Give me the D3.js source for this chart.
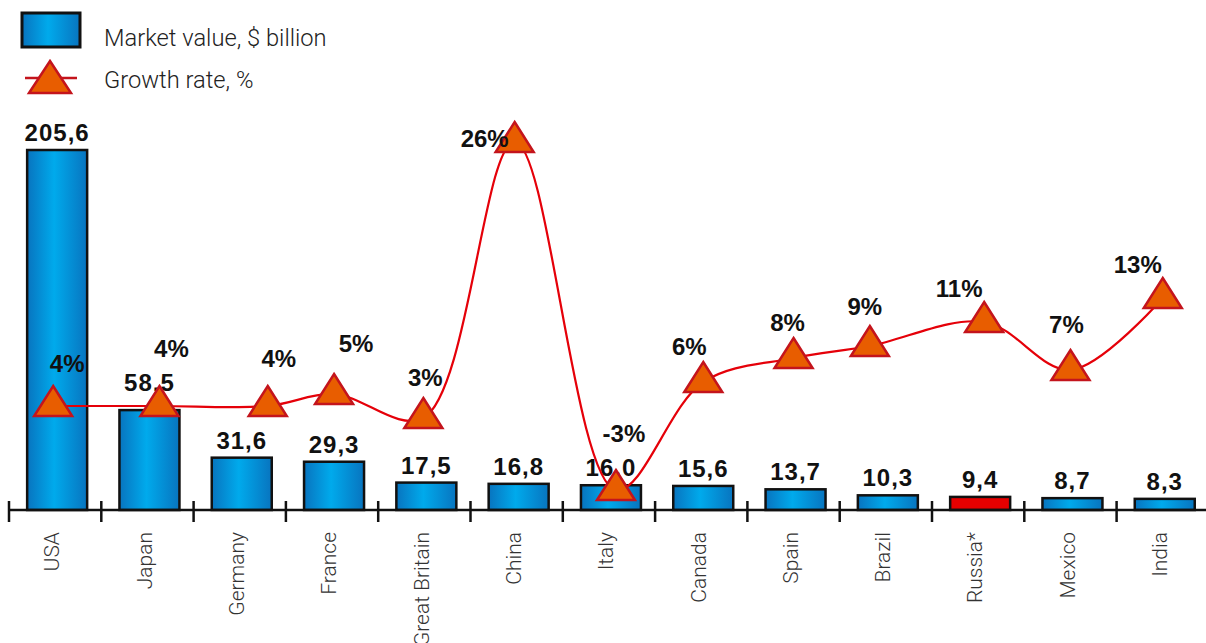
<!DOCTYPE html>
<html>
<head>
<meta charset="utf-8">
<script src="https://cdn.jsdelivr.net/npm/d3@7"></script>
<style>
  html, body { margin: 0; padding: 0; background: #fff; }
  svg { display: block; }
</style>
</head>
<body>
<svg id="chart" width="1206" height="643"></svg>
<script>
// ---- data ----
const countries = ["USA","Japan","Germany","France","Great Britain","China","Italy","Canada","Spain","Brazil","Russia*","Mexico","India"];
const marketValue = [205.6, 58.5, 31.6, 29.3, 17.5, 16.8, 16.0, 15.6, 13.7, 10.3, 9.4, 8.7, 8.3];
const marketLabels = ["205,6","58,5","31,6","29,3","17,5","16,8","16,0","15,6","13,7","10,3","9,4","8,7","8,3"];
const growthRate = [4, 4, 4, 5, 3, 26, -3, 6, 8, 9, 11, 7, 13];
const growthLabels = ["4%","4%","4%","5%","3%","26%","-3%","6%","8%","9%","11%","7%","13%"];
const highlighted = ["Russia*"];
const legendLabels = ["Market value, $ billion", "Growth rate, %"];

// ---- layout nudges (relative offsets, px) ----
const markerNudgeX = [-2, 12, 28, 2, -1, -2, 7, 2, 0, -16, 6, 0, 0];
const pctNudgeX = [14, 12, 11, 22, 2, -30, 8, -14, -6, -5, -25, -4, -25];
const pctNudgeY = [-34, -49, -39, -42, -32, 5, -48, -27, -27, -31, -25, -37, -25];
const barLabelNudgeY = [0, -10, 0, 0, 0, 0, 0, 0, 0, 0, 0, 0, 0];

const svg = d3.select("#chart");
const W = 1206, H = 643;
const baseY = 510;

const defs = svg.append("defs");
const grad = defs.append("linearGradient").attr("id", "barGrad")
  .attr("x1", "0%").attr("x2", "100%").attr("y1", "0%").attr("y2", "0%");
grad.append("stop").attr("offset", "0%").attr("stop-color", "#0874bf");
grad.append("stop").attr("offset", "45%").attr("stop-color", "#00aaec");
grad.append("stop").attr("offset", "100%").attr("stop-color", "#0874bf");

const x = d3.scaleBand().domain(countries).range([9, 9 + 13 * 92.3])
  .paddingInner(0.35).paddingOuter(0.175);
const yBar = d3.scaleLinear().domain([2, 205.6]).range([baseY, 150]);
const yGrowth = d3.scaleLinear().domain([-3, 26]).range([490, 142]);

const step = x.step();
const cx = d => x(d) + x.bandwidth() / 2;

// bars
svg.append("g").selectAll("rect").data(countries).join("rect")
  .attr("x", d => x(d) + 2)
  .attr("width", x.bandwidth())
  .attr("y", (d, i) => yBar(marketValue[i]))
  .attr("height", (d, i) => baseY - yBar(marketValue[i]))
  .attr("fill", d => highlighted.includes(d) ? "#e60000" : "url(#barGrad)")
  .attr("stroke", "#111").attr("stroke-width", 2.5);

// bar labels
svg.append("g").selectAll("text").data(countries).join("text")
  .attr("x", d => cx(d) + 2)
  .attr("y", (d, i) => yBar(marketValue[i]) - 9 + barLabelNudgeY[i])
  .attr("text-anchor", "middle")
  .attr("font-family", "'Liberation Sans', Arial, sans-serif")
  .attr("font-weight", "bold").attr("font-size", 24)
  .attr("letter-spacing", 1)
  .attr("fill", "#111")
  .text((d, i) => marketLabels[i]);

// axis
const axisG = svg.append("g");
axisG.append("line").attr("x1", 9).attr("x2", W).attr("y1", baseY).attr("y2", baseY)
  .attr("stroke", "#111").attr("stroke-width", 2.5);
axisG.selectAll("line.tick").data(countries).join("line").attr("class", "tick")
  .attr("x1", d => x(d) - step * 0.175).attr("x2", d => x(d) - step * 0.175)
  .attr("y1", baseY - 9).attr("y2", baseY + 12)
  .attr("stroke", "#111").attr("stroke-width", 2.5);
axisG.selectAll("text").data(countries).join("text")
  .attr("transform", d => `translate(${cx(d) - 2},${532}) rotate(-90)`)
  .attr("text-anchor", "end")
  .attr("dy", "0.3em")
  .attr("font-family", "Roboto, 'Liberation Sans', sans-serif")
  .attr("font-weight", 300)
  .attr("font-size", 21)
  .attr("fill", "#333")
  .text(d => d);

// growth line
const pts = countries.map((d, i) => [cx(d) + markerNudgeX[i], yGrowth(growthRate[i])]);
svg.append("path")
  .attr("d", d3.line().curve(d3.curveCatmullRom.alpha(0.5))(pts))
  .attr("fill", "none").attr("stroke", "#e50009").attr("stroke-width", 2.2);

// triangles
const tri = "M0,-20L19,10L-19,10Z";
svg.append("g").selectAll("path").data(pts).join("path")
  .attr("d", tri)
  .attr("transform", p => `translate(${p[0]},${p[1]})`)
  .attr("fill", "#e85d00").attr("stroke", "#c4141c").attr("stroke-width", 2.5)
  .attr("stroke-linejoin", "miter");

// growth labels
svg.append("g").selectAll("text").data(pts).join("text")
  .attr("x", (p, i) => p[0] + pctNudgeX[i])
  .attr("y", (p, i) => p[1] + pctNudgeY[i])
  .attr("text-anchor", "middle")
  .attr("font-family", "'Liberation Sans', Arial, sans-serif")
  .attr("font-weight", "bold").attr("font-size", 24)
  .attr("fill", "#111")
  .text((p, i) => growthLabels[i]);

// legend
const lg = svg.append("g");
lg.append("rect").attr("x", 22).attr("y", 13).attr("width", 58).attr("height", 34)
  .attr("fill", "url(#barGrad)").attr("stroke", "#111").attr("stroke-width", 3);
lg.append("line").attr("x1", 25).attr("x2", 77).attr("y1", 78).attr("y2", 78)
  .attr("stroke", "#c4141c").attr("stroke-width", 2.5);
lg.append("path").attr("d", "M0,-21L21,11L-21,11Z").attr("transform", "translate(50,82)")
  .attr("fill", "#e85d00").attr("stroke", "#c4141c").attr("stroke-width", 2.5);
lg.selectAll("text").data(legendLabels).join("text")
  .attr("x", 104).attr("y", (d, i) => 46 + i * 42)
  .attr("font-family", "Roboto, 'Liberation Sans', sans-serif")
  .attr("font-weight", 300).attr("font-size", 23.7)
  .attr("fill", "#222")
  .text(d => d);
</script>
</body>
</html>
